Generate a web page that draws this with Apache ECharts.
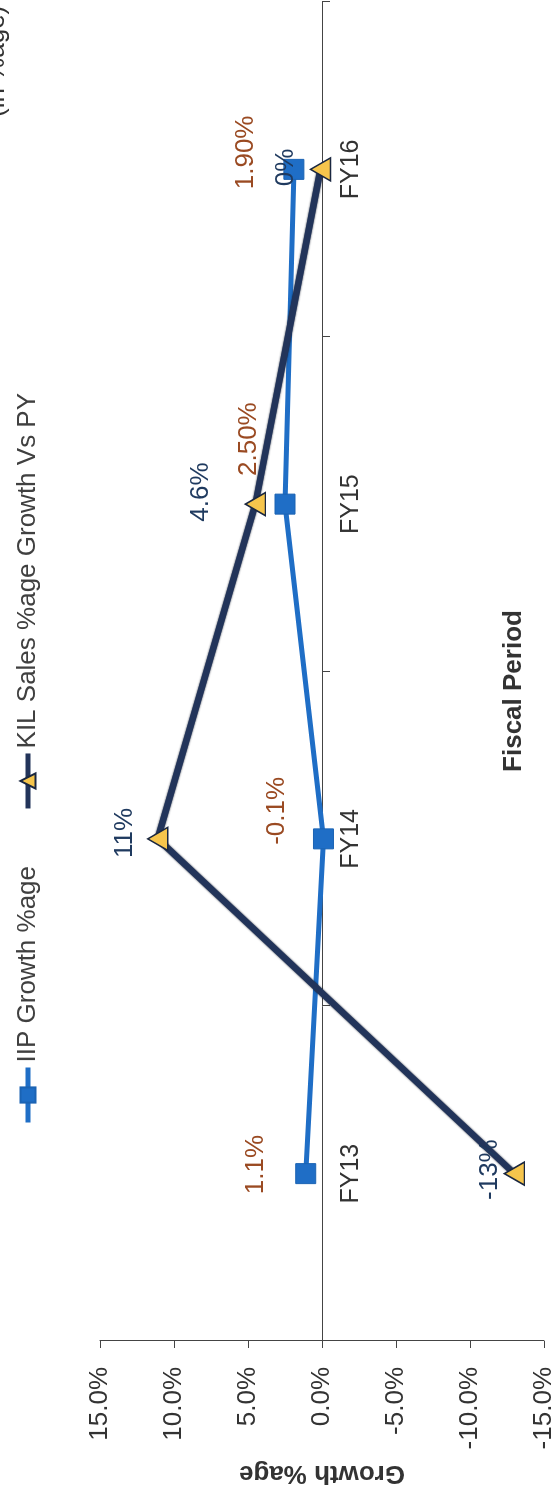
<!DOCTYPE html>
<html><head><meta charset="utf-8">
<script src="https://cdn.jsdelivr.net/npm/echarts@6/dist/echarts.min.js"></script>
<style>
html,body{margin:0;padding:0;background:#fff;overflow:hidden;width:557px;height:1492px;}
#chart{position:absolute;left:0;top:0;width:1492px;height:557px;transform-origin:0 0;transform:translate(0px,1492px) rotate(-90deg);}
</style></head><body><div id="chart"></div>
<script>
const categories = ['FY13', 'FY14', 'FY15', 'FY16'];
const iipGrowth = [1.1, -0.1, 2.5, 1.9];
const kilGrowth = [-13, 11.1, 4.5, 0.1];
const iipLabels = ['1.1%', '-0.1%', '2.50%', '1.90%'];
const kilLabels = ['-13%', '11%', '4.6%', '0%'];
const seriesNames = ['IIP Growth %age', 'KIL Sales %age Growth Vs PY'];
const valueMin = -15, valueMax = 15, valueStep = 5;

// label placement (layout only)
const iipLabelOffset = [[9, -50], [28, -47], [65, -36], [17, -48]];
const kilLabelOffset = [[4, -25], [6, -33], [12, -55], [2, -35]];

const FONT = 'Liberation Sans, Arial, sans-serif';
const GRID = { left: 151, right: 2, top: 100, bottom: 13 };
const CH = 557;
const plotH = CH - GRID.top - GRID.bottom;
// place category axis at the zero line of the value axis
const zeroOffset = -((0 - valueMin) / (valueMax - valueMin)) * plotH;

function build(values, labels, offsets, color) {
  return values.map((v, i) => ({
    value: v,
    label: { show: true, position: 'inside', formatter: labels[i], offset: offsets[i],
             color: color, fontSize: 26, fontFamily: FONT }
  }));
}

const chart = echarts.init(document.getElementById('chart'), null, { renderer: 'canvas' });
chart.setOption({
  animation: false,
  backgroundColor: '#fff',
  textStyle: { fontFamily: FONT },
  graphic: [{
    type: 'text', left: 1375, top: -16,
    style: { text: '(in %age)', fontSize: 26, fontFamily: FONT, fill: '#333' }
  }],
  legend: {
    left: 362, top: 10, itemWidth: 55, itemHeight: 19, itemGap: 55,
    textStyle: { fontSize: 26, color: '#404040', fontFamily: FONT },
    lineStyle: { width: 5 },
    data: seriesNames
  },
  grid: Object.assign({ containLabel: false, outerBoundsMode: 'none' }, GRID),
  xAxis: {
    type: 'category', data: categories, boundaryGap: true,
    position: 'bottom', offset: zeroOffset,
    axisLine: { onZero: false, lineStyle: { color: '#444', width: 1 } },
    axisTick: { show: true, length: 8, lineStyle: { color: '#444' } },
    axisLabel: { fontSize: 25, color: '#333', margin: 17, fontFamily: FONT },
    name: 'Fiscal Period', nameLocation: 'middle', nameGap: 179,
    nameTextStyle: { fontSize: 26, fontWeight: 'bold', color: '#333', fontFamily: FONT, padding: [0, 39, 0, 0] }
  },
  yAxis: {
    type: 'value', min: valueMin, max: valueMax, interval: valueStep,
    axisLine: { show: true, lineStyle: { color: '#444', width: 1 } },
    axisTick: { show: true, length: 7, lineStyle: { color: '#444' } },
    splitLine: { show: false },
    axisLabel: { fontSize: 26, color: '#333', margin: 26, fontFamily: FONT,
                 formatter: v => v.toFixed(1) + '%' },
    name: 'Growth %age', nameLocation: 'middle', nameRotate: 90, nameGap: 119,
    nameTextStyle: { fontSize: 26, fontWeight: 'bold', color: '#333', fontFamily: FONT }
  },
  series: [
    {
      name: seriesNames[0], type: 'line', symbol: 'rect', symbolSize: 20,
      lineStyle: { color: '#1F6EC6', width: 5 },
      itemStyle: { color: '#1F6EC6', borderColor: '#1B63B3', borderWidth: 1 },
      data: build(iipGrowth, iipLabels, iipLabelOffset, '#9A4A22'),
      z: 2
    },
    {
      name: seriesNames[1], type: 'line', symbol: 'triangle', symbolSize: [23, 20],
      lineStyle: { color: '#22345A', width: 6.5, shadowColor: 'rgba(10,18,35,0.9)', shadowBlur: 2 },
      itemStyle: { color: '#F6C54C', borderColor: '#1A2740', borderWidth: 1.5 },
      data: build(kilGrowth, kilLabels, kilLabelOffset, '#1F3A5F'),
      z: 3
    }
  ]
});
</script></body></html>
